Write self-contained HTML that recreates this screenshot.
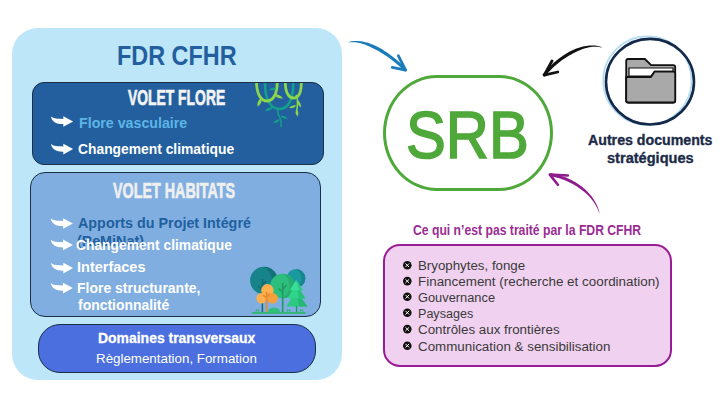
<!DOCTYPE html>
<html><head><meta charset="utf-8">
<style>
html,body{margin:0;padding:0;background:#fff;}
body{width:720px;height:405px;position:relative;overflow:hidden;font-family:"Liberation Sans",sans-serif;}
.a{position:absolute;}
.t{position:absolute;white-space:nowrap;line-height:1;transform-origin:0 0;}
.b{font-weight:bold;}
</style></head><body>

<!-- left panel -->
<div class="a" style="left:12px;top:28px;width:330px;height:352px;background:#BDE6F8;border-radius:26px;"></div>
<div class="t b" style="left:117.15px;top:40.81px;font-size:28.34px;color:#235F9E;transform:scaleX(0.8261);">FDR CFHR</div>


<!-- volet flore -->
<div class="a" style="left:32px;top:82px;width:289.5px;height:81px;background:#235F9E;border:1.3px solid #1B2F45;border-radius:12px;"></div>
<div class="t b" style="left:128.2px;top:86.82px;font-size:21.95px;color:#F4F4F4;transform:scaleX(0.6327);-webkit-text-stroke:0.7px #F4F4F4;">VOLET FLORE</div>

<div class="t b" style="left:78.77px;top:114.88px;font-size:15.26px;color:#5DB5E6;transform:scaleX(0.9322);">Flore vasculaire</div>

<div class="t b" style="left:78.36px;top:142.27px;font-size:14.68px;color:#fff;transform:scaleX(0.9433);">Changement climatique</div>


<!-- volet habitats -->
<div class="a" style="left:29.5px;top:172px;width:289.5px;height:143px;background:#80AEE0;border:1px solid #1B2F45;border-radius:15px;"></div>
<div class="t b" style="left:113.4px;top:179.55px;font-size:22.38px;color:#EFEFEF;transform:scaleX(0.64);-webkit-text-stroke:0.7px #EFEFEF;">VOLET HABITATS</div>

<div class="t b" style="left:77.72px;top:215.97px;font-size:14.68px;color:#21609F;transform:scaleX(0.9777);">Apports du Projet Intégré</div>

<div class="t b" style="left:77.2px;top:234.4px;font-size:14.68px;color:#21609F;transform:scaleX(0.9777)">(ReMiNat)</div>
<div class="t b" style="left:76.46px;top:237.57px;font-size:14.68px;color:#fff;transform:scaleX(0.9415);">Changement climatique</div>

<div class="t b" style="left:76.9px;top:260.4px;font-size:14.53px;color:#fff;transform:scaleX(0.9985);">Interfaces</div>

<div class="t b" style="left:76.92px;top:280.64px;font-size:14.24px;color:#fff;transform:scaleX(0.9815);">Flore structurante,</div>

<div class="t b" style="left:78.2px;top:298.2px;font-size:14.53px;color:#fff;transform:scaleX(0.9589);">fonctionnalité</div>



<!-- vine -->
<svg class="a" style="left:0;top:0" width="720" height="405">
  <g fill="none" stroke-linecap="butt">
    <path d="M265,83 C265,100 271,109 279.5,109 C289,109 293.3,98 293.3,83" stroke="#13A08A" stroke-width="2.6"/>
    <path d="M279.5,108 C276,110 278,114 280,118 C282,122 281,125 281,127" stroke="#13A08A" stroke-width="1.5"/>
    <path d="M256.5,83 C257,96 262,101 267,101 C272,101 277,96 277.2,83" stroke="#8BD64C" stroke-width="2.8"/>
    <path d="M285.3,83 C285.5,93 289,98 293.3,98 C298,98 301.3,93 301.3,83" stroke="#8BD64C" stroke-width="2.8"/>
    <path d="M296,95 C299,100 297,106 296.5,114" stroke="#8BD64C" stroke-width="1.5"/>
  </g>
  <g>
    <path d="M261.5,98.0 Q256.6,100.9 257.5,106.5 Q262.4,103.6 261.5,98.0Z" fill="#8BD64C"/>
    <path d="M273.5,94.0 Q277.0,99.0 283.0,98.5 Q279.5,93.5 273.5,94.0Z" fill="#8BD64C"/>
    <path d="M276.5,88.5 Q272.4,86.4 269.0,89.5 Q273.1,91.6 276.5,88.5Z" fill="#13A08A"/>
    <path d="M273.0,107.5 Q267.9,106.6 265.0,110.8 Q270.1,111.7 273.0,107.5Z" fill="#13A08A"/>
    <path d="M280.5,116.0 Q283.1,119.7 287.5,118.5 Q284.9,114.8 280.5,116.0Z" fill="#13A08A"/>
    <path d="M280.0,119.5 Q275.3,118.9 273.0,123.0 Q277.7,123.6 280.0,119.5Z" fill="#13A08A"/>
    <path d="M296.5,105.5 Q292.0,104.2 289.0,107.8 Q293.5,109.1 296.5,105.5Z" fill="#8BD64C"/>
    <path d="M297.0,99.5 Q296.7,104.7 301.0,107.5 Q301.3,102.3 297.0,99.5Z" fill="#8BD64C"/>
    <path d="M296.5,109.0 Q294.4,113.1 297.5,116.5 Q299.6,112.4 296.5,109.0Z" fill="#8BD64C"/>
  </g>
</svg>

<!-- trees -->
<svg class="a" style="left:0;top:0" width="720" height="405">
  <circle cx="263.9" cy="280.6" r="13.8" fill="#17838A"/>
  <path d="M263.9,266.8 A13.8,13.8 0 0 1 263.9,294.4 A16,16 0 0 0 263.9,266.8Z" fill="#127278"/>
  <circle cx="296" cy="278.3" r="9.4" fill="#1A9AA0"/>
  <path d="M296,268.9 A9.4,9.4 0 0 1 296,287.7 A11,11 0 0 0 296,268.9Z" fill="#15878C"/>
  <path d="M262.4,279 L262.4,313 M262.4,290 L258,286 M262.4,285 L266,281" stroke="#116A70" stroke-width="1.5" fill="none"/>
  <circle cx="282.4" cy="286" r="12.2" fill="#2DBE7E"/>
  <path d="M282.4,273.8 A12.2,12.2 0 0 1 282.4,298.2 A14,14 0 0 0 282.4,273.8Z" fill="#27AD70"/>
  <path d="M282.7,283 L282.7,313 M282.7,292 L278.5,288.5 M282.7,289 L286.5,285" stroke="#1F9A60" stroke-width="1.6" fill="none"/>
  <path d="M296.2,291 L286.3,306.6 L307.5,306.6 Z" fill="#2BC982"/>
  <path d="M296.2,291 L307.5,306.6 L299,306.6 Z" fill="#26B676"/>
  <path d="M296.2,283.5 L287.4,298.5 L305.4,298.5 Z" fill="#2ED48A"/>
  <path d="M296.2,283.5 L305.4,298.5 L299,298.5 Z" fill="#28BE7C"/>
  <path d="M296.1,280 L289.6,290.3 L303.2,290.3 Z" fill="#36DE96"/>
  <path d="M296.1,280 L303.2,290.3 L299,290.3 Z" fill="#2FC886"/>
  <path d="M296.6,306 L296.6,312" stroke="#1F9A60" stroke-width="1.4"/>
  <circle cx="267.4" cy="290.3" r="6.2" fill="#FFB04E"/>
  <circle cx="261.6" cy="298.3" r="5.2" fill="#FFB04E"/>
  <circle cx="272.5" cy="298.3" r="5.3" fill="#F7A03A"/>
  <path d="M266.5,292 L266.5,313 M266.5,298 L263,295 M266.5,297 L269.5,293.5" stroke="#E8892A" stroke-width="1.6" fill="none"/>
  <path d="M267.5,313 A6.5,5.5 0 0 1 280.5,313 Z" fill="#2FC07E"/>
  <rect x="252" y="312" width="53.5" height="1.8" fill="#2EB872"/>
  <path d="M256,312 L256.5,309.5 L257.5,311 L258.5,309.5 L259,312 M287,312 L287.5,309.5 L288.5,311 L289.5,309.5 L290,312 M300,312 L300.5,309.5 L301.5,311 L302.5,309.5 L303,312" stroke="#2EB872" stroke-width="1" fill="none"/>
</svg>

<!-- transversaux -->
<div class="a" style="left:38px;top:324px;width:276px;height:46.5px;background:#4B6FDE;border:1px solid #1B2F45;border-radius:22px;"></div>
<div class="t b" style="left:98.15px;top:330.77px;font-size:14.68px;color:#fff;transform:scaleX(0.9506);-webkit-text-stroke:0.3px #fff;">Domaines transversaux</div>

<div class="t" style="left:96.4px;top:352.38px;font-size:13.37px;color:#fff;transform:scaleX(0.9981);">Règlementation, Formation</div>


<!-- arrows bullets -->
<svg class="a" style="left:0;top:0" width="720" height="405">
  <defs>
    <path id="arw" d="M0,0 C1,1.5 4,2.6 12.4,2.7 L12.4,0 L22.2,5.3 L12.4,10.6 L12.4,7.9 C5,8 1,5.5 0,0 Z" fill="#fff"/>
  </defs>
  <use href="#arw" x="50.9" y="116.2"/>
  <use href="#arw" x="50.9" y="143.8"/>
  <use href="#arw" x="50.7" y="218.2"/>
  <use href="#arw" x="50.7" y="239.6"/>
  <use href="#arw" x="50.9" y="262.8"/>
  <use href="#arw" x="50.6" y="282.8"/>
</svg>

<!-- SRB -->
<div class="a" style="left:383px;top:74.5px;width:164px;height:110px;border:3px solid #4FA83A;border-radius:54px/58px;"></div>
<div class="t" style="left:405.89px;top:102.6px;font-size:65.84px;color:#4FA83A;-webkit-text-stroke:1.6px #4FA83A;transform:scaleX(0.9069)">SRB</div>

<!-- autres docs -->
<div class="t b" style="left:588.16px;top:132.0px;font-size:15.12px;color:#1C2B48;transform:scaleX(0.9382);-webkit-text-stroke:0.35px #1C2B48;">Autres documents</div>

<div class="t b" style="left:607.24px;top:150.0px;font-size:15.12px;color:#1C2B48;transform:scaleX(0.9648);-webkit-text-stroke:0.35px #1C2B48;">stratégiques</div>


<!-- pink box -->
<div class="t b" style="left:413.03px;top:223.79px;font-size:13.95px;color:#9A2C94;transform:scaleX(0.8742);">Ce qui n’est pas traité par la FDR CFHR</div>

<div class="a" style="left:383px;top:244px;width:285px;height:119px;background:#F0D1EF;border:2px solid #981D94;border-radius:17px;"></div>
<div class="t" style="left:418.09px;top:259.4px;font-size:13.23px;color:#3A3A3A;transform:scaleX(1.0057);">Bryophytes, fonge</div>

<div class="t" style="left:418.09px;top:275.4px;font-size:13.23px;color:#3A3A3A;transform:scaleX(1.0148);">Financement (recherche et coordination)</div>

<div class="t" style="left:418.13px;top:291.4px;font-size:13.23px;color:#3A3A3A;transform:scaleX(0.9705);">Gouvernance</div>

<div class="t" style="left:418.15px;top:307.3px;font-size:13.23px;color:#3A3A3A;transform:scaleX(0.9509);">Paysages</div>

<div class="t" style="left:418.09px;top:323.3px;font-size:13.23px;color:#3A3A3A;transform:scaleX(1.0094);">Contrôles aux frontières</div>

<div class="t" style="left:418.09px;top:340.1px;font-size:13.23px;color:#3A3A3A;transform:scaleX(1.0111);">Communication &amp; sensibilisation</div>


<svg class="a" style="left:0;top:0" width="720" height="405">
  <defs>
    <g id="xb"><circle r="4.3" fill="#111"/><path d="M-1.8,-1.8 L1.8,1.8 M1.8,-1.8 L-1.8,1.8" stroke="#fff" stroke-width="1"/></g>
  </defs>
  <use href="#xb" x="407.3" y="265.3"/>
  <use href="#xb" x="407.3" y="281.1"/>
  <use href="#xb" x="407.3" y="296.7"/>
  <use href="#xb" x="407.3" y="312.7"/>
  <use href="#xb" x="407.3" y="329.1"/>
  <use href="#xb" x="407.3" y="345.7"/>

  <path d="M348.76,42.54 L349.81,42.35 L350.89,42.23 L352.00,42.16 L353.14,42.15 L354.31,42.20 L355.51,42.31 L356.74,42.47 L358.00,42.68 L359.29,42.95 L360.60,43.27 L361.93,43.64 L363.29,44.07 L364.68,44.54 L366.08,45.07 L367.50,45.65 L368.94,46.27 L370.40,46.95 L371.88,47.67 L373.36,48.45 L374.88,49.23 L376.44,50.02 L378.01,50.86 L379.58,51.75 L381.17,52.68 L382.77,53.66 L384.37,54.69 L385.98,55.75 L387.59,56.87 L389.21,58.03 L390.82,59.22 L392.43,60.47 L394.04,61.75 L395.65,63.07 L397.25,64.44 L398.85,65.84 L400.43,67.29 L402.01,68.77 L403.57,70.29 L405.13,71.85 L407.27,69.75 L405.71,68.15 L404.12,66.58 L402.52,65.05 L400.91,63.56 L399.30,62.10 L397.67,60.69 L396.04,59.32 L394.40,57.99 L392.75,56.69 L391.11,55.45 L389.46,54.24 L387.81,53.08 L386.17,51.96 L384.53,50.88 L382.89,49.86 L381.26,48.87 L379.63,47.94 L378.02,47.04 L376.41,46.20 L374.80,45.45 L373.18,44.78 L371.58,44.16 L370.00,43.59 L368.44,43.08 L366.90,42.62 L365.38,42.21 L363.89,41.86 L362.43,41.56 L361.00,41.32 L359.59,41.13 L358.22,41.00 L356.88,40.93 L355.58,40.92 L354.31,40.96 L353.09,41.06 L351.91,41.22 L350.77,41.44 L349.67,41.72 L348.64,42.06 Z" fill="#1A7DBA"/>
  <path d="M398.4,55.8 L405.6,70.2 L392.2,67.4" fill="none" stroke="#1A7DBA" stroke-width="2.8" stroke-linecap="round" stroke-linejoin="round"/>
  <path d="M601.66,47.11 L600.45,46.67 L599.19,46.29 L597.89,45.99 L596.54,45.75 L595.15,45.58 L593.73,45.48 L592.28,45.45 L590.79,45.49 L589.27,45.59 L587.73,45.75 L586.16,45.98 L584.57,46.27 L582.97,46.62 L581.34,47.03 L579.70,47.50 L578.05,48.03 L576.38,48.61 L574.71,49.25 L573.03,49.95 L571.37,50.73 L569.72,51.60 L568.07,52.52 L566.43,53.49 L564.80,54.50 L563.18,55.57 L561.56,56.68 L559.96,57.83 L558.37,59.03 L556.80,60.26 L555.25,61.55 L553.72,62.87 L552.21,64.23 L550.72,65.63 L549.26,67.06 L547.83,68.53 L546.43,70.04 L545.06,71.59 L543.72,73.16 L542.44,74.75 L544.76,76.65 L546.04,75.09 L547.33,73.57 L548.67,72.09 L550.03,70.64 L551.42,69.22 L552.84,67.84 L554.28,66.49 L555.75,65.18 L557.24,63.91 L558.74,62.68 L560.27,61.50 L561.81,60.35 L563.36,59.24 L564.92,58.18 L566.49,57.17 L568.07,56.20 L569.65,55.28 L571.23,54.40 L572.82,53.58 L574.38,52.77 L575.93,51.98 L577.47,51.24 L579.01,50.55 L580.54,49.91 L582.07,49.33 L583.58,48.80 L585.08,48.33 L586.57,47.91 L588.04,47.56 L589.50,47.26 L590.93,47.03 L592.35,46.86 L593.74,46.75 L595.10,46.70 L596.45,46.72 L597.76,46.81 L599.05,46.96 L600.31,47.19 L601.54,47.49 Z" fill="#111"/>
  <path d="M552,61 L544.2,75.2 L557.8,72" fill="none" stroke="#111" stroke-width="2.8" stroke-linecap="round" stroke-linejoin="round"/>
  <path d="M549.55,176.08 L551.24,176.36 L552.91,176.67 L554.57,177.03 L556.23,177.44 L557.89,177.88 L559.53,178.37 L561.17,178.90 L562.79,179.47 L564.40,180.08 L565.99,180.73 L567.57,181.41 L569.13,182.14 L570.67,182.90 L572.18,183.69 L573.67,184.53 L575.14,185.39 L576.58,186.30 L577.99,187.23 L579.37,188.20 L580.74,189.18 L582.09,190.17 L583.40,191.19 L584.69,192.24 L585.93,193.33 L587.14,194.44 L588.31,195.59 L589.43,196.76 L590.52,197.97 L591.56,199.20 L592.55,200.47 L593.49,201.76 L594.39,203.08 L595.23,204.42 L596.02,205.80 L596.75,207.19 L597.43,208.62 L598.05,210.07 L598.61,211.55 L599.11,213.06 L599.49,212.94 L599.11,211.39 L598.66,209.85 L598.14,208.33 L597.57,206.83 L596.93,205.34 L596.23,203.87 L595.47,202.43 L594.65,201.00 L593.78,199.60 L592.86,198.22 L591.88,196.87 L590.86,195.54 L589.78,194.24 L588.66,192.96 L587.49,191.71 L586.28,190.49 L585.03,189.30 L583.74,188.14 L582.40,187.01 L581.02,185.93 L579.59,184.91 L578.12,183.93 L576.62,182.98 L575.10,182.06 L573.55,181.19 L571.98,180.35 L570.38,179.55 L568.76,178.78 L567.13,178.06 L565.47,177.37 L563.80,176.73 L562.11,176.13 L560.41,175.57 L558.70,175.05 L556.98,174.57 L555.25,174.14 L553.51,173.75 L551.77,173.41 L550.05,173.12 Z" fill="#8E1C8E"/>
  <path d="M567.8,175.5 L549.8,174.6 L557.9,184.8" fill="none" stroke="#8E1C8E" stroke-width="2.6" stroke-linecap="round" stroke-linejoin="round"/>
  <!-- circle -->
  <circle cx="647.4" cy="80.6" r="44.2" fill="none" stroke="#B7DDF2" stroke-width="1.8"/>
  <ellipse cx="650" cy="81.7" rx="44" ry="42.8" fill="none" stroke="#13294A" stroke-width="2.6"/>
  <!-- folder -->
  <path d="M626.2,61 Q626.2,59 628.2,59 L644.9,59 L651.1,65.1 L673.2,65.1 Q675.2,65.1 675.2,67.1 L675.2,100.5 Q675.2,102.5 673.2,102.5 L628.2,102.5 Q626.2,102.5 626.2,100.5 Z" fill="#A9A9A9" stroke="#111" stroke-width="1.8" stroke-linejoin="round"/>
  <path d="M629,68 L673,68 L673,71 L654.6,71.4 L651,76.2 L629,76.2 Z" fill="#fff" stroke="#111" stroke-width="1.2"/>
  <path d="M626.2,77 L651,77 L654.6,71.6 L673.2,71.6 Q675.2,71.6 675.2,73.6 L675.2,100.5 Q675.2,102.5 673.2,102.5 L628.2,102.5 Q626.2,102.5 626.2,100.5 Z" fill="#A9A9A9" stroke="#111" stroke-width="1.8" stroke-linejoin="round"/>
</svg>

</body></html>
